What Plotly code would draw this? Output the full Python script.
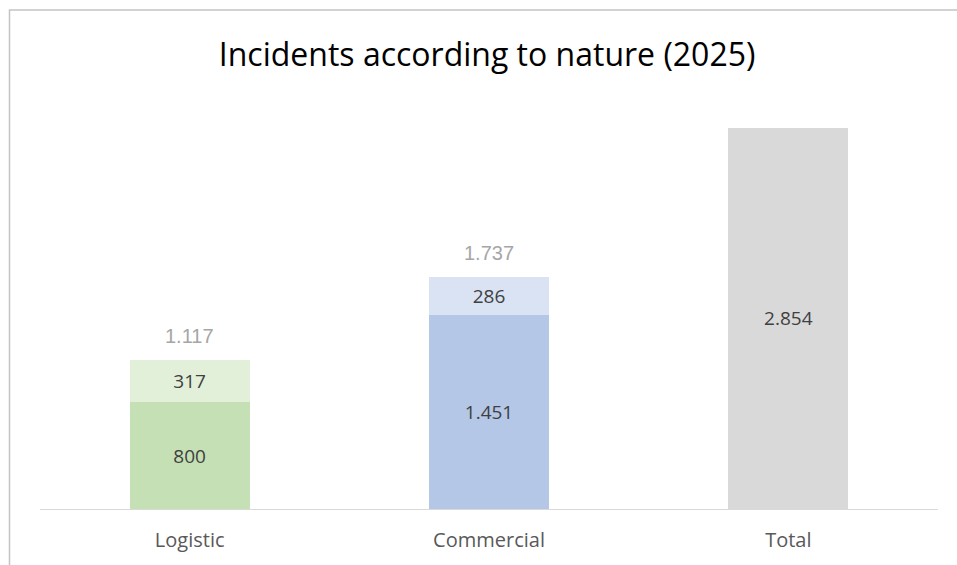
import plotly.graph_objects as go

categories = ["Logistic", "Commercial", "Total"]
base_values = [800, 1451, 2854]
top_values = [317, 286, None]
base_colors = ["#c5e0b4", "#b4c7e7", "#d9d9d9"]
top_colors = ["#e2f0d9", "#dae3f3", "#ffffff"]
totals = [800 + 317, 1451 + 286]

W, H = 957, 565
ml, mr, mt, mb = 40, 19, 108, 56

fig = go.Figure()
fig.add_bar(
    x=categories, y=base_values, marker_color=base_colors, marker_line_width=0,
    width=0.4, texttemplate="%{y:,.0f}", textposition="inside",
    insidetextanchor="middle", textangle=0,
    textfont=dict(family="Open Sans", size=19, color="#404040"), hoverinfo="skip",
)
fig.add_bar(
    x=categories, y=top_values, marker_color=top_colors, marker_line_width=0,
    width=0.4, texttemplate="%{y:,.0f}", textposition="inside",
    insidetextanchor="middle", textangle=0,
    textfont=dict(family="Open Sans", size=19, color="#404040"), hoverinfo="skip",
)
for cat, tot in zip(categories[:2], totals):
    fig.add_annotation(
        x=cat, y=tot, text=f"{tot:,}".replace(",", "."), showarrow=False,
        yanchor="middle", yshift=24,
        font=dict(family="Liberation Sans", size=20, color="#a6a6a6"),
    )

fig.update_layout(
    width=W, height=H, barmode="stack", showlegend=False,
    separators=",.",
    paper_bgcolor="white", plot_bgcolor="white",
    margin=dict(l=ml, r=mr, t=mt, b=mb),
    title=dict(text="Incidents according to nature (2025)", x=0.509, xanchor="center",
               y=1 - 55 / H, yanchor="middle",
               font=dict(family="Open Sans", size=32, color="#000000")),
    xaxis=dict(showline=True, linecolor="#d9d9d9", linewidth=1, ticks="",
               ticklabelstandoff=13, automargin=False,
               tickfont=dict(family="Open Sans", size=20, color="#595959"),
               showgrid=False, zeroline=False),
    yaxis=dict(range=[0, 3000], visible=False, showgrid=False, zeroline=False,
               automargin=False),
)
# outer chart border
x0 = (9.5 - ml) / (W - ml - mr)
y1 = (H - mb - 10) / (H - mt - mb)
fig.add_shape(type="rect", xref="paper", yref="paper", x0=x0, y0=-0.5, x1=1.2, y1=y1,
              line=dict(color="#c4c4c4", width=1.5), fillcolor="rgba(0,0,0,0)", layer="above")

fig.write_html("out.html")
